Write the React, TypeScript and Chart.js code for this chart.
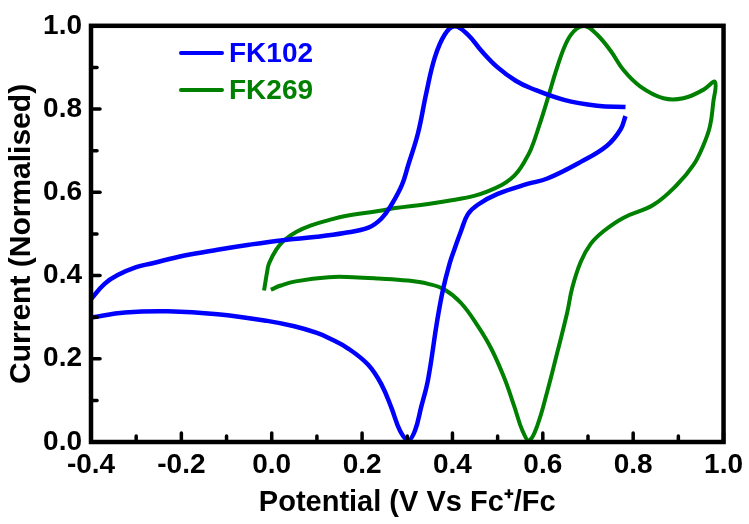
import React, { useEffect, useRef } from "react";
import { Chart, registerables } from "chart.js";

Chart.register(...registerables);

// ---- Data ----
const fk102X = [
  -0.4, -0.37, -0.341, -0.3, -0.266, -0.193, -0.12, -0.05, 0.025, 0.1, 0.16, 0.214, 0.243, 0.265, 0.288,
  0.302, 0.324, 0.342, 0.361, 0.383, 0.405, 0.434, 0.464, 0.5, 0.54, 0.574, 0.647, 0.72, 0.783,
  0.783,
  0.783, 0.772, 0.742, 0.684, 0.61, 0.566, 0.5, 0.456, 0.434, 0.419, 0.405, 0.394, 0.379, 0.366, 0.346,
  0.331, 0.317, 0.302, 0.284, 0.265, 0.243, 0.214, 0.17, 0.126, 0.1, 0.05, -0.01, -0.12, -0.23, -0.325, -0.4,
];
const fk102Y = [
  0.343, 0.38, 0.401, 0.42, 0.429, 0.448, 0.462, 0.474, 0.485, 0.493, 0.502, 0.515, 0.537, 0.57, 0.617,
  0.665, 0.743, 0.838, 0.924, 0.979, 0.999, 0.979, 0.94, 0.9, 0.868, 0.85, 0.822, 0.808, 0.805,
  null,
  0.783, 0.751, 0.712, 0.673, 0.633, 0.62, 0.596, 0.57, 0.547, 0.507, 0.465, 0.43, 0.366, 0.29, 0.15,
  0.085, 0.027, 0.004, 0.027, 0.082, 0.138, 0.185, 0.224, 0.25, 0.262, 0.278, 0.291, 0.307, 0.314, 0.311, 0.299,
];

const fk269X = [
  -0.017, -0.01, -0.006, 0.01, 0.027, 0.055, 0.089, 0.126, 0.163, 0.236, 0.273, 0.346, 0.405, 0.45, 0.478,
  0.51, 0.53, 0.545, 0.559, 0.574, 0.592, 0.61, 0.632, 0.654, 0.675, 0.695, 0.72, 0.75, 0.779, 0.816,
  0.867, 0.911, 0.955, 0.981,
  0.977, 0.97, 0.955, 0.933, 0.897, 0.845, 0.779, 0.735, 0.706, 0.684, 0.665, 0.654, 0.632, 0.61, 0.588,
  0.57, 0.555, 0.537, 0.515, 0.486, 0.456, 0.419, 0.383, 0.346, 0.3, 0.236, 0.18, 0.126, 0.053, 0.02, -0.002,
];
const fk269Y = [
  0.364, 0.41, 0.429, 0.462, 0.484, 0.505, 0.521, 0.533, 0.543, 0.555, 0.562, 0.572, 0.582, 0.592, 0.602,
  0.618, 0.633, 0.65, 0.673, 0.704, 0.76, 0.822, 0.901, 0.964, 0.993, 0.999, 0.979, 0.94, 0.893, 0.854,
  0.826, 0.826, 0.846, 0.865,
  0.814, 0.759, 0.712, 0.665, 0.618, 0.57, 0.539, 0.507, 0.476, 0.433, 0.37, 0.311, 0.215, 0.122, 0.04,
  0.004, 0.027, 0.085, 0.153, 0.224, 0.279, 0.334, 0.366, 0.38, 0.388, 0.393, 0.396, 0.396, 0.386, 0.376, 0.366,
];

const xMajorTicks = [-0.4, -0.2, 0.0, 0.2, 0.4, 0.6, 0.8, 1.0];
const yMajorTicks = [0.0, 0.2, 0.4, 0.6, 0.8, 1.0];
const xMinorTicks = [-0.3, -0.1, 0.1, 0.3, 0.5, 0.7, 0.9];
const yMinorTicks = [0.1, 0.3, 0.5, 0.7, 0.9];

const seriesNames = ["FK102", "FK269"];
const seriesColors = ["#0000ff", "#008000"];

const FONT = "'Liberation Sans', Arial, sans-serif";

const zip = (xs: number[], ys: (number | null)[]) => xs.map((x, i) => ({ x, y: ys[i] }));
const fmt = (v: number) => (Math.abs(v) < 1e-9 ? "0.0" : Number(v).toFixed(1));

const framePlugin = {
  id: "frameTicks",
  afterDatasetsDraw(chart: any) {
    const { ctx, chartArea } = chart;
    const xs = chart.scales.x;
    const ys = chart.scales.y;
    ctx.save();
    ctx.strokeStyle = "#000";
    ctx.lineCap = "round";
    ctx.lineWidth = 3.5;
    const drawX = (v: number, len: number) => {
      const px = xs.getPixelForValue(v);
      ctx.beginPath();
      ctx.moveTo(px, chartArea.bottom);
      ctx.lineTo(px, chartArea.bottom - len);
      ctx.stroke();
    };
    const drawY = (v: number, len: number) => {
      const py = ys.getPixelForValue(v);
      ctx.beginPath();
      ctx.moveTo(chartArea.left, py);
      ctx.lineTo(chartArea.left + len, py);
      ctx.stroke();
    };
    xMajorTicks.forEach((v) => drawX(v, 9));
    xMinorTicks.forEach((v) => drawX(v, 6));
    yMajorTicks.forEach((v) => drawY(v, 9));
    yMinorTicks.forEach((v) => drawY(v, 6));
    ctx.lineCap = "butt";
    ctx.lineWidth = 4.5;
    ctx.strokeRect(chartArea.left, chartArea.top, chartArea.right - chartArea.left, chartArea.bottom - chartArea.top);
    ctx.restore();

    // legend
    ctx.save();
    ctx.font = `bold 28px ${FONT}`;
    ctx.textBaseline = "middle";
    ctx.textAlign = "left";
    const legY = [53, 90];
    seriesNames.forEach((name, i) => {
      ctx.strokeStyle = seriesColors[i];
      ctx.lineWidth = 4;
      ctx.lineCap = "round";
      ctx.beginPath();
      ctx.moveTo(181, legY[i]);
      ctx.lineTo(222, legY[i]);
      ctx.stroke();
      ctx.fillStyle = seriesColors[i];
      ctx.fillText(name, 229, legY[i] + 1);
    });
    ctx.restore();
  },
};

export default function App() {
  const ref = useRef<HTMLCanvasElement | null>(null);
  useEffect(() => {
    if (!ref.current) return;
    const chart = new Chart(ref.current, {
      type: "line",
      data: {
        datasets: [
          {
            label: seriesNames[0],
            data: zip(fk102X, fk102Y),
            borderColor: seriesColors[0],
            borderWidth: 4.5,
            pointRadius: 0,
            tension: 0.4,
            spanGaps: false,
            fill: false,
          },
          {
            label: seriesNames[1],
            data: zip(fk269X, fk269Y),
            borderColor: seriesColors[1],
            borderWidth: 4,
            pointRadius: 0,
            tension: 0.4,
            fill: false,
          },
        ],
      },
      options: {
        animation: false,
        responsive: false,
        parsing: { xAxisKey: "x", yAxisKey: "y" } as any,
        layout: { padding: { left: 0, top: 18, right: 22, bottom: 0 } },
        plugins: { legend: { display: false }, tooltip: { enabled: false } },
        scales: {
          x: {
            type: "linear",
            min: -0.4,
            max: 1.0,
            grid: { display: false, drawTicks: false },
            border: { display: false },
            afterBuildTicks: (s: any) => {
              s.ticks = xMajorTicks.map((v) => ({ value: v }));
            },
            afterFit: (s: any) => {
              s.height = 82;
            },
            ticks: {
              autoSkip: false,
              maxRotation: 0,
              padding: 6,
              color: "#000",
              font: { family: FONT, size: 28, weight: "bold" },
              callback: (v: any) => fmt(Number(v)),
            },
            title: {
              display: true,
              text: "Potential (V Vs Fc\u207A/Fc",
              color: "#000",
              font: { family: FONT, size: 29, weight: "bold" },
              padding: { top: 0, bottom: 4 },
            },
          },
          y: {
            type: "linear",
            min: 0,
            max: 1.0,
            grid: { display: false, drawTicks: false },
            border: { display: false },
            afterBuildTicks: (s: any) => {
              s.ticks = yMajorTicks.map((v) => ({ value: v }));
            },
            afterFit: (s: any) => {
              s.width = 91;
            },
            ticks: {
              autoSkip: false,
              padding: 9,
              color: "#000",
              font: { family: FONT, size: 28, weight: "bold" },
              callback: (v: any) => fmt(Number(v)),
            },
            title: {
              display: true,
              text: "Current (Normalised)",
              color: "#000",
              font: { family: FONT, size: 30, weight: "bold" },
              padding: { top: 4, bottom: 0 },
            },
          },
        },
      } as any,
      plugins: [framePlugin],
    });
    return () => chart.destroy();
  }, []);
  return (
    <div style={{ position: "absolute", left: 0, top: 0, width: 749, height: 524, background: "#fff" }}>
      <canvas ref={ref} width={749} height={524} style={{ width: 749, height: 524, display: "block" }} />
    </div>
  );
}
